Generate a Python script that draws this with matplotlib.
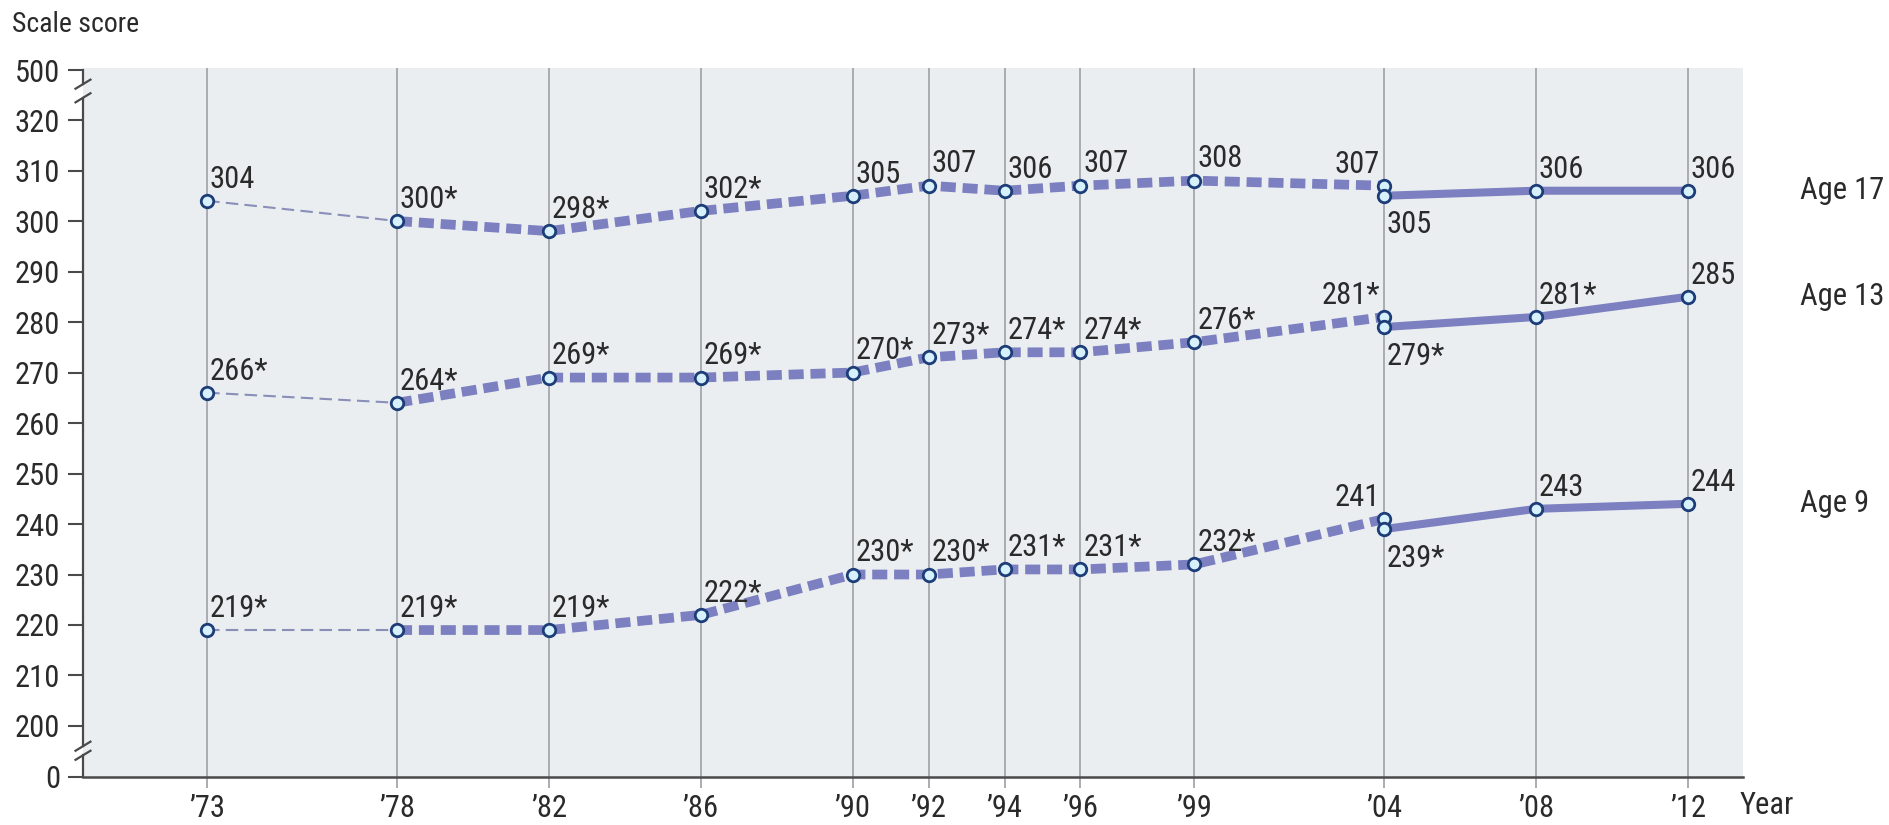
import matplotlib
matplotlib.use('Agg')
import matplotlib.pyplot as plt
import matplotlib.font_manager as fm
import matplotlib.transforms as mtransforms
from matplotlib.lines import Line2D

# ---------------- data ----------------
tick_years = [1973, 1978, 1982, 1986, 1990, 1992, 1994, 1996, 1999, 2004, 2008, 2012]
tick_labels = ["\u201973", "\u201978", "\u201982", "\u201986", "\u201990", "\u201992",
               "\u201994", "\u201996", "\u201999", "\u201904", "\u201908", "\u201912"]

years_trend = [1973, 1978, 1982, 1986, 1990, 1992, 1994, 1996, 1999, 2004]
years_revised = [2004, 2008, 2012]

age17_trend = [304, 300, 298, 302, 305, 307, 306, 307, 308, 307]
age17_trend_sig = [0, 1, 1, 1, 0, 0, 0, 0, 0, 0]
age17_rev = [305, 306, 306]
age17_rev_sig = [0, 0, 0]

age13_trend = [266, 264, 269, 269, 270, 273, 274, 274, 276, 281]
age13_trend_sig = [1, 1, 1, 1, 1, 1, 1, 1, 1, 1]
age13_rev = [279, 281, 285]
age13_rev_sig = [1, 1, 0]

age9_trend = [219, 219, 219, 222, 230, 230, 231, 231, 232, 241]
age9_trend_sig = [1, 1, 1, 1, 1, 1, 1, 1, 1, 0]
age9_rev = [239, 243, 244]
age9_rev_sig = [1, 0, 0]

series_names = ["Age 17", "Age 13", "Age 9"]

y_ticks = [200, 210, 220, 230, 240, 250, 260, 270, 280, 290, 300, 310, 320]
y_tick_labels = [str(v) for v in y_ticks]

# ---------------- fonts ----------------
names = {f.name for f in fm.fontManager.ttflist}
FONT = 'DejaVu Sans'
for cand in ['Liberation Sans Narrow', 'Roboto Condensed', 'Open Sans Condensed',
             'DejaVu Sans Condensed', 'Noto Sans']:
    if cand in names:
        FONT = cand
        break
plt.rcParams['font.family'] = [FONT, 'DejaVu Sans']
FS = 22 if 'Narrow' in FONT or 'Condensed' in FONT else 18
TXT = '#2a2a2a'

# ---------------- layout ----------------
W, H = 1889, 825
fig = plt.figure(figsize=(W / 100, H / 100), dpi=100)
fig.patch.set_facecolor('white')
ax = fig.add_axes([83 / W, 1 - 777 / H, (1743 - 83) / W, (777 - 68) / H])
ax.set_xlim(1969.73, 2013.45)
Y_ZERO, Y_500 = 189.9, 329.9          # display positions of the broken-axis ticks
ax.set_ylim(Y_ZERO, 330.3)
ax.set_facecolor('#eaeef1')

for s in ['top', 'right', 'left']:
    ax.spines[s].set_visible(False)
ax.spines['bottom'].set_color('#4a4a4a')
ax.spines['bottom'].set_linewidth(1.8)

ax.set_xticks(tick_years)
ax.set_xticklabels(tick_labels)
ax.tick_params(axis='x', length=8, width=1.4, color='#a9adb1', pad=4,
               labelsize=FS, labelcolor=TXT)
ax.grid(axis='x', color='#a9adb1', lw=1.4, zorder=0)
ax.set_axisbelow(True)

ax.set_yticks([Y_ZERO] + y_ticks + [Y_500])
ax.set_yticklabels(['0'] + y_tick_labels + ['500'])
ax.tick_params(axis='y', length=10.8, width=1.5, color='#4a4a4a', pad=5.8,
               labelsize=FS, labelcolor=TXT)

# left spine with break marks
bt = mtransforms.blended_transform_factory(ax.transAxes, ax.transData)
for y0, y1 in [(Y_ZERO, 194.2), (196.0, 324.4), (327.1, Y_500)]:
    ax.add_line(Line2D([0, 0], [y0, y1], transform=bt, color='#4a4a4a', lw=1.6,
                       clip_on=False, zorder=6))
for v in [194.2, 196.0, 324.4, 327.1]:
    ax.add_line(Line2D([-0.0045, 0.0045], [v - 0.9, v + 0.9], transform=bt,
                       color='#4a4a4a', lw=1.6, clip_on=False, zorder=6))

# ---------------- series ----------------
LINE = '#7c80c0'
THIN = '#8a8fb8'
MFC = '#d6f1fb'
MEC = '#1c3d78'

all_series = [
    (age17_trend, age17_trend_sig, age17_rev, age17_rev_sig),
    (age13_trend, age13_trend_sig, age13_rev, age13_rev_sig),
    (age9_trend, age9_trend_sig, age9_rev, age9_rev_sig),
]

def lab(v, s):
    return f"{v}*" if s else f"{v}"

for (tr, trs, rv, rvs), name in zip(all_series, series_names):
    ax.plot(years_trend[:2], tr[:2], color=THIN, lw=1.5, dashes=(6, 3), zorder=3)
    ax.plot(years_trend[1:], tr[1:], color=LINE, lw=7, dashes=(1.55, 0.7),
            dash_capstyle='butt', zorder=3)
    ax.plot(years_revised, rv, color=LINE, lw=5.8, solid_capstyle='butt', zorder=3)
    ax.plot(years_trend, tr, 'o', ms=9, mfc=MFC, mec=MEC, mew=2, zorder=5)
    ax.plot(years_revised, rv, 'o', ms=9, mfc=MFC, mec=MEC, mew=2, zorder=5)

    for x, v, s in zip(years_trend[:-1], tr[:-1], trs[:-1]):
        ax.annotate(lab(v, s), (x, v), xytext=(2, 9.5), textcoords='offset points',
                    ha='left', va='baseline', fontsize=FS, color=TXT, zorder=7)
    ax.annotate(lab(tr[-1], trs[-1]), (years_trend[-1], tr[-1]), xytext=(-3, 9),
                textcoords='offset points', ha='right', va='baseline',
                fontsize=FS, color=TXT, zorder=7)
    ax.annotate(lab(rv[0], rvs[0]), (years_revised[0], rv[0]), xytext=(2, -27),
                textcoords='offset points', ha='left', va='baseline',
                fontsize=FS, color=TXT, zorder=7)
    for x, v, s in zip(years_revised[1:], rv[1:], rvs[1:]):
        ax.annotate(lab(v, s), (x, v), xytext=(2, 9.5), textcoords='offset points',
                    ha='left', va='baseline', fontsize=FS, color=TXT, zorder=7)

    nt = mtransforms.blended_transform_factory(fig.transFigure, ax.transData)
    ax.text(1800 / W, rv[-1], name, transform=nt, ha='left', va='center',
            fontsize=FS, color=TXT, clip_on=False)

fig.text(1740 / W, 1 - 805 / H, 'Year', ha='left', va='center', fontsize=FS, color=TXT)
fig.text(12 / W, 1 - 24 / H, 'Scale score', ha='left', va='center', fontsize=20, color=TXT)

fig.savefig('out.png', dpi=100, facecolor='white')
